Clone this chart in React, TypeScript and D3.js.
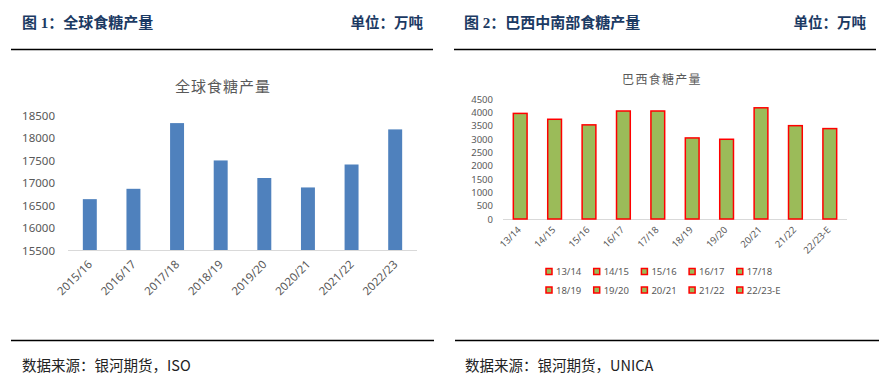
import React from "react";
import * as d3 from "d3";

const globalCats = ["2015/16", "2016/17", "2017/18", "2018/19", "2019/20", "2020/21", "2021/22", "2022/23"];
const globalVals = [16630, 16860, 18320, 17490, 17100, 16890, 17400, 18180];
const globalTicks = [15500, 16000, 16500, 17000, 17500, 18000, 18500];

const brazilCats = ["13/14", "14/15", "15/16", "16/17", "17/18", "18/19", "19/20", "20/21", "21/22", "22/23-E"];
const brazilVals = [3960, 3740, 3530, 4050, 4050, 3040, 2990, 4170, 3500, 3390];
const brazilTicks = [0, 500, 1000, 1500, 2000, 2500, 3000, 3500, 4000, 4500];

const HEAD = "#1B3A63";
const GRAY = "#595959";
const SANS = "'Noto Sans', 'Noto Sans CJK SC', sans-serif";
const CJK = "'Noto Sans CJK SC', sans-serif";
const SERIFB = "'Liberation Serif', 'Noto Sans CJK SC', serif";

export default function App() {
  const x1 = d3.scaleBand<string>().domain(globalCats).range([68, 417]).paddingInner(0.68).paddingOuter(0.34);
  const y1 = d3.scaleLinear().domain([15500, 18500]).range([250, 115]);
  const x2 = d3.scaleBand<string>().domain(brazilCats).range([503, 847]).paddingInner(0.6).paddingOuter(0.3);
  const y2 = d3.scaleLinear().domain([0, 4500]).range([219, 99]);

  const legX0 = 546;
  const legStep = 47.7;
  const legRows = [271.5, 290];

  return (
    <svg width={889} height={379} style={{ position: "absolute", left: 0, top: 0, background: "#fff" }}>
      {/* Headers */}
      <text x={22} y={22.5} dominantBaseline="central" fontFamily={SERIFB} fontWeight="bold" fontSize={15} fill={HEAD}>
        图 1：全球食糖产量
      </text>
      <text x={423} y={22.5} dominantBaseline="central" textAnchor="end" fontFamily={SERIFB} fontWeight="bold" fontSize={14.5} fill={HEAD}>
        单位：万吨
      </text>
      <text x={464} y={22.5} dominantBaseline="central" fontFamily={SERIFB} fontWeight="bold" fontSize={15} fill={HEAD}>
        图 2：巴西中南部食糖产量
      </text>
      <text x={866} y={22.5} dominantBaseline="central" textAnchor="end" fontFamily={SERIFB} fontWeight="bold" fontSize={14.5} fill={HEAD}>
        单位：万吨
      </text>
      <line x1={11} x2={433} y1={49.5} y2={49.5} stroke="#000" strokeWidth={1.3} />
      <line x1={454} x2={876} y1={49.5} y2={49.5} stroke="#000" strokeWidth={1.3} />

      {/* Left chart */}
      <text x={223} y={85.5} textAnchor="middle" dominantBaseline="central" fontFamily={CJK} fontSize={15} letterSpacing={1} fill={GRAY}>
        全球食糖产量
      </text>
      {globalTicks.map((t) => (
        <text key={t} x={55} y={y1(t)} textAnchor="end" dominantBaseline="central" fontFamily={SANS} fontSize={11.5} fill={GRAY}>
          {t}
        </text>
      ))}
      {globalCats.map((c, i) => (
        <rect key={c} x={x1(c)} y={y1(globalVals[i])} width={x1.bandwidth()} height={y1(15500) - y1(globalVals[i])} fill="#4F81BD" />
      ))}
      <line x1={68} x2={417} y1={250.5} y2={250.5} stroke="#D9D9D9" strokeWidth={1} />
      {globalCats.map((c) => {
        const cx = (x1(c) as number) + x1.bandwidth() / 2;
        return (
          <text key={c} transform={`translate(${cx},262) rotate(-45)`} textAnchor="end" dominantBaseline="central" fontFamily={SANS} fontSize={11.5} fill={GRAY}>
            {c}
          </text>
        );
      })}

      {/* Right chart */}
      <text x={662} y={78} textAnchor="middle" dominantBaseline="central" fontFamily={CJK} fontSize={12} letterSpacing={1.3} fill={GRAY}>
        巴西食糖产量
      </text>
      {brazilTicks.map((t) => (
        <text key={t} x={493} y={y2(t)} textAnchor="end" dominantBaseline="central" fontFamily={SANS} fontSize={9.5} fill={GRAY}>
          {t}
        </text>
      ))}
      <line x1={503} x2={847} y1={219.5} y2={219.5} stroke="#D9D9D9" strokeWidth={1} />
      {brazilCats.map((c, i) => (
        <rect key={c} x={x2(c)} y={y2(brazilVals[i])} width={x2.bandwidth()} height={y2(0) - y2(brazilVals[i])} fill="#9BBB59" stroke="#FF0000" strokeWidth={1.5} />
      ))}
      {brazilCats.map((c) => {
        const cx = (x2(c) as number) + x2.bandwidth() / 2;
        return (
          <text key={c} transform={`translate(${cx - 1},228) rotate(-45)`} textAnchor="end" dominantBaseline="central" fontFamily={SANS} fontSize={9.5} fill={GRAY}>
            {c}
          </text>
        );
      })}
      {brazilCats.map((c, i) => {
        const col = i % 5;
        const row = Math.floor(i / 5);
        const lx = legX0 + col * legStep;
        const ly = legRows[row];
        return (
          <g key={c}>
            <rect x={lx} y={ly - 3} width={6} height={6} fill="#9BBB59" stroke="#FF0000" strokeWidth={1.5} />
            <text x={lx + 10} y={ly} dominantBaseline="central" fontFamily={SANS} fontSize={9.5} fill={GRAY}>
              {c}
            </text>
          </g>
        );
      })}

      {/* Footers */}
      <line x1={11} x2={434} y1={340.5} y2={340.5} stroke="#000" strokeWidth={1.3} />
      <line x1={455} x2={879} y1={340.5} y2={340.5} stroke="#000" strokeWidth={1.3} />
      <text x={22} y={364} dominantBaseline="central" fontFamily={CJK} fontSize={14.5} fill="#222">
        数据来源：银河期货，ISO
      </text>
      <text x={465} y={364} dominantBaseline="central" fontFamily={CJK} fontSize={14.5} fill="#222">
        数据来源：银河期货，UNICA
      </text>
    </svg>
  );
}
